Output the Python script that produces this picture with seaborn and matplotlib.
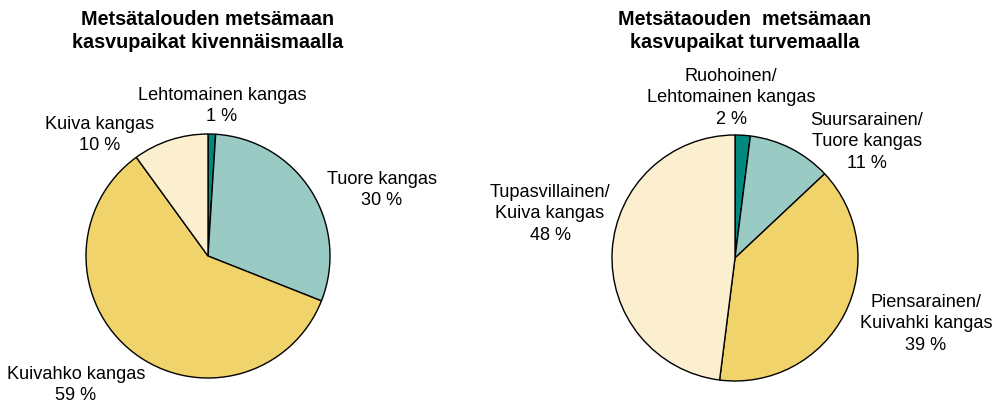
import matplotlib
matplotlib.use("Agg")
import matplotlib.pyplot as plt
import seaborn as sns

# Kivennäismaa
mineral_labels = ["Lehtomainen kangas", "Tuore kangas", "Kuivahko kangas", "Kuiva kangas"]
mineral_values = [1, 30, 59, 10]
# Turvemaa
peat_labels = ["Ruohoinen/\nLehtomainen kangas", "Suursarainen/\nTuore kangas",
               "Piensarainen/\nKuivahki kangas", "Tupasvillainen/\nKuiva kangas"]
peat_values = [2, 11, 39, 48]

colors = sns.color_palette(["#00897f", "#99cac4", "#f0d36b", "#fbefcf"])

sns.set_theme(style="white")
plt.rcParams["font.family"] = ["Liberation Sans", "DejaVu Sans"]
plt.rcParams["text.color"] = "black"

W, H = 1000, 404
fig = plt.figure(figsize=(W / 100, H / 100), dpi=100)


def make_axes(cx, cy, r):
    # akseli sijoitetaan pikseleinä, jotta piirakan säde on r
    ax = fig.add_axes([(cx - r) / W, 1 - (cy + r) / H, 2 * r / W, 2 * r / H])
    ax.axis("off")
    return ax


def draw(cx, cy, r, values, labels, label_px, title, title_x):
    ax = make_axes(cx, cy, r)
    ax.pie(values, colors=colors, startangle=90, counterclock=False, radius=1,
           wedgeprops=dict(edgecolor="black", linewidth=1.0))
    ax.set_xlim(-1, 1)
    ax.set_ylim(-1, 1)
    for lab, v, (x, y) in zip(labels, values, label_px):
        tx, ty = (x - cx) / r, -(y - cy) / r
        ax.text(tx, ty, f"{lab}\n{v} %", ha="center", va="center",
                multialignment="center", fontsize=13.1, linespacing=1.33,
                clip_on=False)
    fig.text(title_x / W, 1 - 31 / H, title, ha="center", va="center",
             fontsize=14.2, fontweight="bold", linespacing=1.28)


draw(208, 256, 122, mineral_values, mineral_labels,
     [(222, 106), (382, 190), (76, 385), (100, 135)],
     "Metsätalouden metsämaan\nkasvupaikat kivennäismaalla", 208)

draw(735, 258, 123, peat_values, peat_labels,
     [(731, 98), (867, 142), (926, 324), (550, 214)],
     "Metsätaouden  metsämaan\nkasvupaikat turvemaalla", 745)

fig.savefig("out.png", dpi=100)
